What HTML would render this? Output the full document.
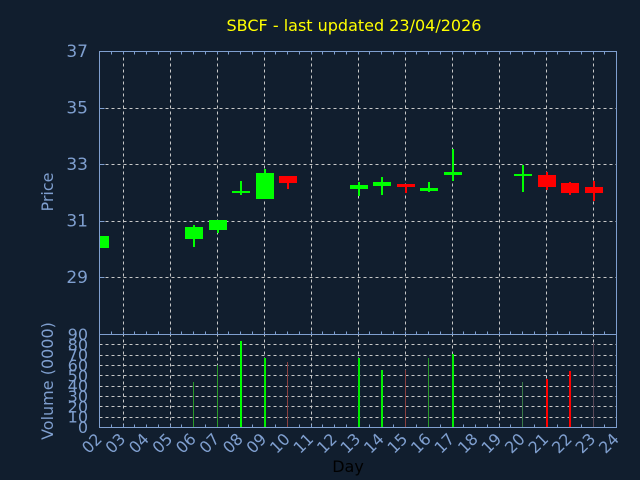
<!DOCTYPE html>
<html><head><meta charset="utf-8"><style>
html,body{margin:0;padding:0;background:#111e2e;}
svg{display:block;font-family:"DejaVu Sans","Liberation Sans",sans-serif;}
</style></head><body>
<svg id="s" width="640" height="480" xmlns="http://www.w3.org/2000/svg">
<rect width="640" height="480" fill="#111e2e"/>
<text x="354" y="31" fill="#ffff00" font-size="16" text-anchor="middle">SBCF - last updated 23/04/2026</text>
<text transform="translate(53,192) rotate(-90)" fill="#7f9fcf" font-size="16" text-anchor="middle">Price</text>
<text transform="translate(53,381) rotate(-90)" fill="#7f9fcf" font-size="16" text-anchor="middle">Volume (0000)</text>
<text x="348" y="472" fill="#000" font-size="16" text-anchor="middle">Day</text>
<g id="g"></g>
</svg>
<script>
var g=document.getElementById('g'),h='';
var L=99.5,R=616.5,T=51.5,M=334.5,B=427.5,ax='#7f9fcf',gr='#c8c8c8';
function X(d){return 99+(d-2)*23.5;}
function Y(p){return 51+(37-p)*28.25;}
// vertical grid odd days
for(var d=3;d<=23;d+=2){var x=Math.round(X(d))+0.5;
h+='<line x1="'+x+'" y1="'+T+'" x2="'+x+'" y2="'+B+'" stroke="'+gr+'" stroke-dasharray="3,3" stroke-width="1"/>';}
// price horizontal grid
[35,33,31,29].forEach(function(p){var y=Math.round(Y(p))+0.5;
h+='<line x1="'+L+'" y1="'+y+'" x2="'+R+'" y2="'+y+'" stroke="'+gr+'" stroke-dasharray="3,3"/>';
h+='<line x1="'+L+'" y1="'+y+'" x2="'+(L+5)+'" y2="'+y+'" stroke="'+ax+'"/>';});
[37,35,33,31,29].forEach(function(p){h+='<text x="88" y="'+(Y(p)+6)+'" fill="'+ax+'" font-size="17" text-anchor="end">'+p+'</text>';});
// volume grid
for(var v=10;v<=80;v+=10){var y=Math.round(427-v*93/90)+0.5;
h+='<line x1="'+L+'" y1="'+y+'" x2="'+R+'" y2="'+y+'" stroke="'+gr+'" stroke-dasharray="3,3"/>';}
for(var v=0;v<=90;v+=10){h+='<text x="88" y="'+(427-v*93/90+6)+'" fill="'+ax+'" font-size="16" text-anchor="end">'+v+'</text>';}
// minor ticks
for(var i=0;i<=44;i++){var x=Math.round(99+i*11.75)+0.5;
h+='<line x1="'+x+'" y1="'+T+'" x2="'+x+'" y2="'+(T+3)+'" stroke="'+ax+'"/>';
h+='<line x1="'+x+'" y1="'+B+'" x2="'+x+'" y2="'+(B-3)+'" stroke="'+ax+'"/>';
h+='<line x1="'+x+'" y1="'+M+'" x2="'+x+'" y2="'+(M-3)+'" stroke="'+ax+'"/>';}
// candles [day,top,bottom,wickTop,wickBot,color]
var c=[[2,236,248,236,248,'#00ff00'],[6,227,239,225,247,'#00ff00'],[7,220,230,220,233,'#00ff00'],[8,191,193,181,195,'#00ff00'],[9,173,199,169,199,'#00ff00'],[10,176,183,176,189,'#ff0000'],[13,185,189,182,196,'#00ff00'],[14,182,186,177,195,'#00ff00'],[15,184,187,184,193,'#ff0000'],[16,188,191,182,192,'#00ff00'],[17,172,175,149,181,'#00ff00'],[20,174,176,165,192,'#00ff00'],[21,175,187,172,190,'#ff0000'],[22,183,193,182,195,'#ff0000'],[23,187,193,181,201,'#ff0000']];
c.forEach(function(k){var x=Math.round(X(k[0]));
h+='<rect x="'+x+'" y="'+k[3]+'" width="2" height="'+(k[4]-k[3])+'" fill="'+k[5]+'"/>';
var x0=Math.max(x-8,100);
h+='<rect x="'+x0+'" y="'+k[1]+'" width="'+(x+10-x0)+'" height="'+(k[2]-k[1])+'" fill="'+k[5]+'"/>';});
// volume bars [day,top,color,width]
var v=[[6,382,'#2a9a2a',1],[7,365,'#2a9a2a',1],[8,341,'#00ff00',2],[9,358,'#00ee00',2],[10,362,'#8a4040',1],[13,358,'#00ee00',2],[14,370,'#00ee00',2],[15,370,'#8a4040',1],[16,358,'#2a9a2a',1],[17,354,'#00ee00',2],[20,382,'#3a7a4a',1],[21,379,'#ff0000',2],[22,371,'#ff0000',2],[23,343,'#5a4a5a',1]];
v.forEach(function(k){var x=Math.round(X(k[0]));
h+='<rect x="'+x+'" y="'+k[1]+'" width="'+k[3]+'" height="'+(427-k[1])+'" fill="'+k[2]+'"/>';});
// frames
h+='<rect x="'+L+'" y="'+T+'" width="'+(R-L)+'" height="'+(B-T)+'" fill="none" stroke="'+ax+'"/>';
h+='<line x1="'+L+'" y1="'+M+'" x2="'+R+'" y2="'+M+'" stroke="'+ax+'"/>';
// x labels
for(var d=2;d<=24;d++){var x=X(d)+4,lbl=(d<10?'0':'')+d;
h+='<text transform="translate('+x+',440) rotate(-45)" fill="'+ax+'" font-size="16" text-anchor="end">'+lbl+'</text>';}
g.innerHTML=h;
</script>
</body></html>
